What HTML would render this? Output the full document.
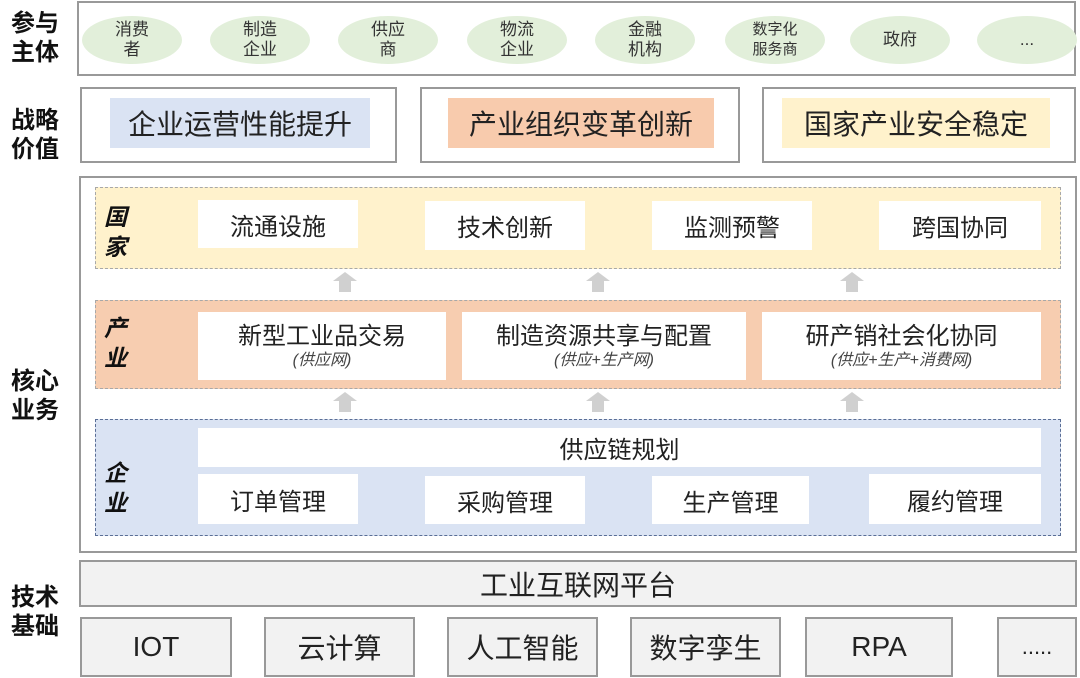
<!DOCTYPE html>
<html><head><meta charset="utf-8"><style>
*{margin:0;padding:0;box-sizing:border-box}
body{width:1080px;height:678px;background:#fff;position:relative;overflow:hidden;font-family:"Liberation Sans","Noto Sans CJK SC",sans-serif;color:#222}
.a{position:absolute}
.c{display:flex;align-items:center;justify-content:center;text-align:center}
.lab{font-weight:bold;font-size:24px;line-height:29px;color:#111;left:11px;width:58px}
.box{border:2px solid #999;background:#fff}
.el{background:#e2efda;border-radius:50%;width:100px;height:48px;top:16px;font-size:17px;line-height:20px;color:#333}
.w{background:#fff;font-size:24px;color:#222}
.side{font-weight:bold;font-style:italic;font-size:23px;line-height:30px;color:#111;left:104px;width:30px}
.arr{width:24px;height:20px}
.arr:before{content:"";position:absolute;left:0;top:0;border-left:12px solid transparent;border-right:12px solid transparent;border-bottom:9px solid #d0d0d0}
.arr:after{content:"";position:absolute;left:6px;top:9px;width:12px;height:11px;background:#d0d0d0}
.sub{font-style:italic;font-size:16px;line-height:19px;color:#444}
.tb{background:#f2f2f2;border:2px solid #999;font-size:28px;color:#222;top:617px;height:60px}
</style></head><body>
<div class="a lab" style="top:9px">参与<br>主体</div>
<div class="a lab" style="top:106px">战略<br>价值</div>
<div class="a lab" style="top:367px">核心<br>业务</div>
<div class="a lab" style="top:583px">技术<br>基础</div>

<div class="a box" style="left:77px;top:1px;width:999px;height:75px"></div>
<div class="a el c" style="left:82px">消费<br>者</div>
<div class="a el c" style="left:210px">制造<br>企业</div>
<div class="a el c" style="left:338px">供应<br>商</div>
<div class="a el c" style="left:467px">物流<br>企业</div>
<div class="a el c" style="left:595px">金融<br>机构</div>
<div class="a el c" style="left:725px;font-size:15px">数字化<br>服务商</div>
<div class="a el c" style="left:850px">政府</div>
<div class="a el c" style="left:977px">...</div>

<div class="a box" style="left:80px;top:87px;width:317px;height:76px"></div>
<div class="a box" style="left:420px;top:87px;width:320px;height:76px"></div>
<div class="a box" style="left:762px;top:87px;width:314px;height:76px"></div>
<div class="a c" style="left:110px;top:98px;width:260px;height:50px;background:#dae3f3;font-size:28px">企业运营性能提升</div>
<div class="a c" style="left:448px;top:98px;width:266px;height:50px;background:#f8cbad;font-size:28px">产业组织变革创新</div>
<div class="a c" style="left:782px;top:98px;width:268px;height:50px;background:#fff2cc;font-size:28px">国家产业安全稳定</div>

<div class="a box" style="left:79px;top:176px;width:998px;height:377px"></div>
<div class="a" style="left:95px;top:187px;width:966px;height:82px;background:#fff2cc;border:1.5px dashed #a8a8a8"></div>
<div class="a side" style="top:202px">国<br>家</div>
<div class="a w c" style="left:198px;top:200px;width:160px;height:48px">流通设施</div>
<div class="a w c" style="left:425px;top:201px;width:160px;height:49px">技术创新</div>
<div class="a w c" style="left:652px;top:201px;width:160px;height:49px">监测预警</div>
<div class="a w c" style="left:879px;top:201px;width:162px;height:49px">跨国协同</div>

<div class="a arr" style="left:333px;top:272px"></div>
<div class="a arr" style="left:586px;top:272px"></div>
<div class="a arr" style="left:840px;top:272px"></div>

<div class="a" style="left:95px;top:300px;width:966px;height:89px;background:#f7cdb0;border:1.5px dashed #a8a8a8"></div>
<div class="a side" style="top:313px">产<br>业</div>
<div class="a w c" style="left:198px;top:312px;width:248px;height:68px;flex-direction:column"><div style="line-height:29px">新型工业品交易</div><div class="sub">(供应网)</div></div>
<div class="a w c" style="left:462px;top:312px;width:284px;height:68px;flex-direction:column"><div style="line-height:29px">制造资源共享与配置</div><div class="sub">(供应+生产网)</div></div>
<div class="a w c" style="left:762px;top:312px;width:279px;height:68px;flex-direction:column"><div style="line-height:29px">研产销社会化协同</div><div class="sub">(供应+生产+消费网)</div></div>

<div class="a arr" style="left:333px;top:392px"></div>
<div class="a arr" style="left:586px;top:392px"></div>
<div class="a arr" style="left:840px;top:392px"></div>

<div class="a" style="left:95px;top:419px;width:966px;height:117px;background:#dae3f3;border:1.5px dashed #5a6e96"></div>
<div class="a side" style="top:458px">企<br>业</div>
<div class="a w c" style="left:198px;top:428px;width:843px;height:39px">供应链规划</div>
<div class="a w c" style="left:198px;top:474px;width:160px;height:50px">订单管理</div>
<div class="a w c" style="left:425px;top:476px;width:160px;height:48px">采购管理</div>
<div class="a w c" style="left:652px;top:476px;width:157px;height:48px">生产管理</div>
<div class="a w c" style="left:869px;top:474px;width:172px;height:50px">履约管理</div>

<div class="a c" style="left:79px;top:560px;width:998px;height:47px;background:#f2f2f2;border:2px solid #999;font-size:28px">工业互联网平台</div>

<div class="a tb c" style="left:80px;width:152px">IOT</div>
<div class="a tb c" style="left:264px;width:151px">云计算</div>
<div class="a tb c" style="left:447px;width:151px">人工智能</div>
<div class="a tb c" style="left:630px;width:151px">数字孪生</div>
<div class="a tb c" style="left:805px;width:148px">RPA</div>
<div class="a tb c" style="left:997px;width:80px;font-size:22px">.....</div>
</body></html>
